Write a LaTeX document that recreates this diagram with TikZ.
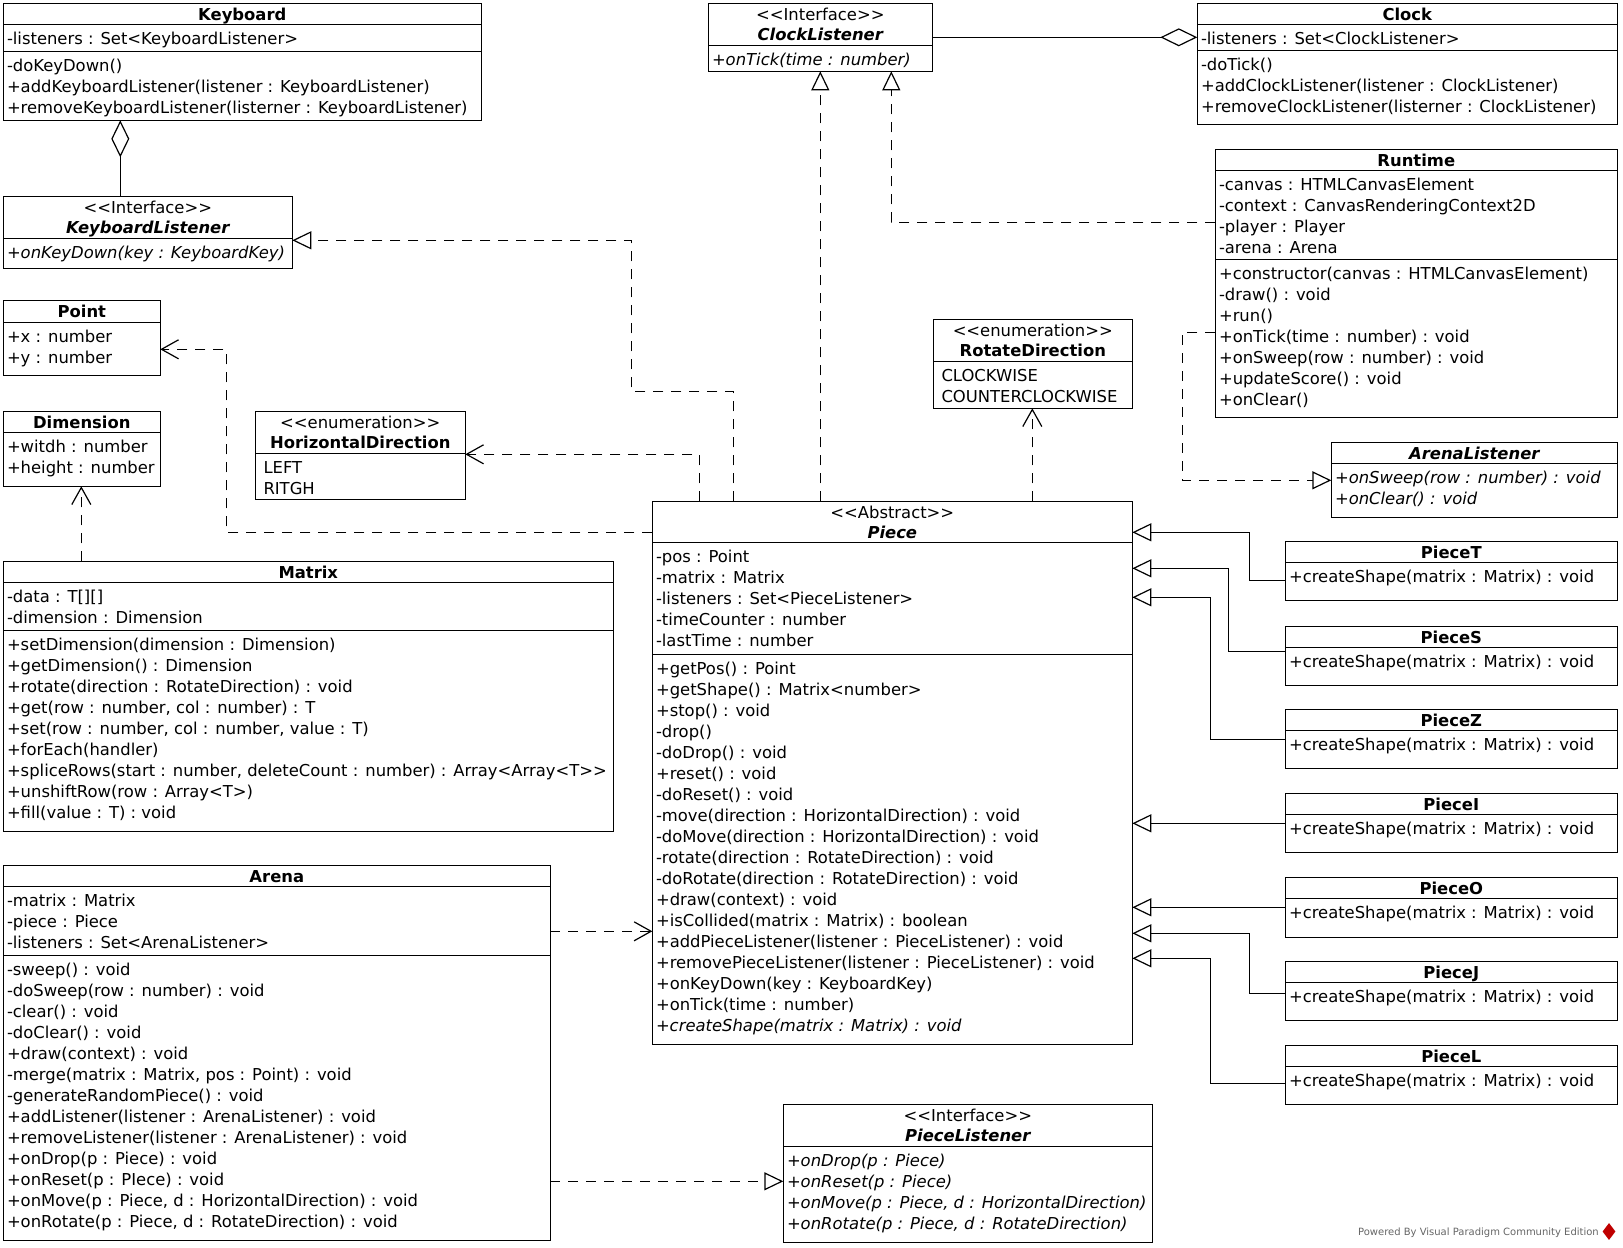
\documentclass[tikz,border=0pt]{standalone}
\usepackage{fontspec}
\setmainfont{DejaVu Sans}
\usetikzlibrary{arrows.meta,shapes.geometric}
\newcommand\stopen{<\kern0pt<}
\newcommand\stclose{>\kern0pt>}
\newcommand\umlcls[5]{\node[clsbox, minimum width={(#4)-(#2)}, minimum height={(#5)-(#3)}] (#1) at ({((#2)+(#4))/2},{((#3)+(#5))/2}) {};}
\newcommand\umlsep[2]{\draw[sepline] (#1.west |- 0,#2) -- (#1.east |- 0,#2);}
\newcommand\ctitle[3]{\node[ttl, yshift=-17.4pt] (#1) at (#2.north) {\bfseries #3};}
\newcommand\stitle[4]{\node[ttl, yshift=-16.7pt] (#1s) at (#2.north) {#3};\node[ttl, yshift=-37.3pt] (#1) at (#2.north) {\bfseries #4};}
\newcommand\ctext[5][3.5]{\node[comp, xshift=#1pt, yshift=-5.1pt] (#2) at (#3.west |- 0,#4) {\strut #5};}
\newcommand\subcls[5]{\umlcls{#1}{1285.3}{#3}{1617.3}{#5}\umlsep{#1}{#4}\ctitle{#1T}{#1}{#2}\ctext{#1M}{#1}{#4}{+createShape(matrix : Matrix) : void}}
\begin{document}
\begin{tikzpicture}[x=1pt, y=-1pt,
  clsbox/.style={draw=black, line width=1.3pt, fill=white, inner sep=0pt, outer sep=0pt},
  sepline/.style={line width=1.3pt},
  comp/.style={anchor=north west, align=left, inner sep=0pt, font=\fontsize{16.4}{21}\selectfont},
  ttl/.style={anchor=base, inner sep=0pt, font=\fontsize{16.4}{21}\selectfont},
  conn/.style={line width=1.2pt, line join=miter},
  dsh/.style={dash pattern=on 10pt off 8pt},
  real/.style={conn, dsh, -{Triangle[open, length=19pt, width=18pt]}},
  dep/.style={conn, dsh, -{Straight Barb[length=17pt, width=19pt]}},
  gen/.style={conn, -{Triangle[open, length=19pt, width=18pt]}},
  aggr/.style={conn, -{Diamond[open, length=37pt, width=18pt]}}]
\fill[white] (0,0) rectangle (1623,1248);
\useasboundingbox (0,0) rectangle (1623,1248);

% ---------- classes ----------
\umlcls{kb}{3.3}{3.3}{481.3}{120.3}
\umlcls{kbl}{3.3}{196.3}{292.3}{268.3}
\umlcls{pt}{3.3}{300.3}{160.3}{375.3}
\umlcls{dm}{3.3}{411.3}{160.3}{486.3}
\umlcls{hd}{255.3}{411.3}{465.3}{499.3}
\umlcls{rd}{933.3}{319.3}{1132.3}{408.3}
\umlcls{cl}{708.3}{3.3}{932.3}{71.3}
\umlcls{clk}{1197.3}{3.3}{1617.3}{124.3}
\umlcls{rt}{1215.3}{149.3}{1617.3}{417.3}
\umlcls{al}{1331.3}{442.3}{1617.3}{517.3}
\umlcls{pc}{652.3}{501.3}{1132.3}{1044.3}
\umlcls{mx}{3.3}{561.3}{613.3}{831.3}
\umlcls{ar}{3.3}{865.3}{550.3}{1240.3}
\umlcls{pl}{783.3}{1104.3}{1152.3}{1242.3}

% ---------- connectors ----------
\draw[aggr] (kbl.north -| 120.3,0) -- (kb.south -| 120.3,0);
\draw[aggr] (cl.east |- 0,37.3) -- (clk.west |- 0,37.3);
\draw[real] (rt.west |- 0,222.3) -| (cl.south -| 891.3,0);
\draw[real] (pc.north -| 820.3,0) -- (cl.south -| 820.3,0);
\draw[real] (pc.north -| 733.3,0) |- (631.3,391.3) |- (kbl.east |- 0,240.3);
\draw[dep] (pc.north -| 699.3,0) |- (hd.east |- 0,454.3);
\draw[dep] (pc.north -| 1032.3,0) -- (rd.south -| 1032.3,0);
\draw[dep] (pc.west |- 0,532.3) -| (226.3,349.3) -- (pt.east |- 0,349.3);
\draw[dep] (mx.north -| 81.3,0) -- (dm.south -| 81.3,0);
\draw[real] (rt.west |- 0,332.3) -| (1182.3,480.3) -- (al.west |- 0,480.3);
\draw[dep] (ar.east |- 0,931.3) -- (pc.west |- 0,931.3);
\draw[real] (ar.east |- 0,1181.3) -- (pl.west |- 0,1181.3);

% ---------- Keyboard ----------
\umlsep{kb}{24.3}\umlsep{kb}{51.3}
\ctitle{kbT}{kb}{Keyboard}
\ctext{kbA}{kb}{24.3}{-listeners : Set<KeyboardListener>}
\ctext{kbM}{kb}{51.3}{-doKeyDown()\\+addKeyboardListener(listener : KeyboardListener)\\+removeKeyboardListener(listerner : KeyboardListener)}

% ---------- KeyboardListener ----------
\umlsep{kbl}{238.3}
\stitle{kblT}{kbl}{\stopen Interface\stclose}{\itshape KeyboardListener}
\ctext{kblM}{kbl}{238.3}{+\textit{onKeyDown(key : KeyboardKey)}}

% ---------- Point / Dimension ----------
\umlsep{pt}{322.3}
\ctitle{ptT}{pt}{Point}
\ctext{ptA}{pt}{322.3}{+x : number\\+y : number}
\umlsep{dm}{432.3}
\ctitle{dmT}{dm}{Dimension}
\ctext{dmA}{dm}{432.3}{+witdh : number\\+height : number}

% ---------- enumerations ----------
\umlsep{hd}{453.3}
\stitle{hdT}{hd}{\stopen enumeration\stclose}{HorizontalDirection}
\ctext[8]{hdA}{hd}{453.3}{LEFT\\RITGH}
\umlsep{rd}{361.3}
\stitle{rdT}{rd}{\stopen enumeration\stclose}{RotateDirection}
\ctext[8]{rdA}{rd}{361.3}{CLOCKWISE\\COUNTERCLOCKWISE}

% ---------- ClockListener / Clock ----------
\umlsep{cl}{45.3}
\stitle{clT}{cl}{\stopen Interface\stclose}{\itshape ClockListener}
\ctext{clM}{cl}{45.3}{+\textit{onTick(time : number)}}
\umlsep{clk}{24.3}\umlsep{clk}{50.3}
\ctitle{clkT}{clk}{Clock}
\ctext{clkA}{clk}{24.3}{-listeners : Set<ClockListener>}
\ctext{clkM}{clk}{50.3}{-doTick()\\+addClockListener(listener : ClockListener)\\+removeClockListener(listerner : ClockListener)}

% ---------- Runtime ----------
\umlsep{rt}{170.3}\umlsep{rt}{259.3}
\ctitle{rtT}{rt}{Runtime}
\ctext{rtA}{rt}{170.3}{-canvas : HTMLCanvasElement\\-context : CanvasRenderingContext2D\\-player : Player\\-arena : Arena}
\ctext{rtM}{rt}{259.3}{+constructor(canvas : HTMLCanvasElement)\\-draw() : void\\+run()\\+onTick(time : number) : void\\+onSweep(row : number) : void\\+updateScore() : void\\+onClear()}

% ---------- ArenaListener ----------
\umlsep{al}{463.3}
\ctitle{alT}{al}{\itshape ArenaListener}
\ctext{alM}{al}{463.3}{+\textit{onSweep(row : number) : void}\\+\textit{onClear() : void}}

% ---------- Piece ----------
\umlsep{pc}{542.3}\umlsep{pc}{654.3}
\stitle{pcT}{pc}{\stopen Abstract\stclose}{\itshape Piece}
\ctext{pcA}{pc}{542.3}{-pos : Point\\-matrix : Matrix\\-listeners : Set<PieceListener>\\-timeCounter : number\\-lastTime : number}
\ctext{pcM}{pc}{654.3}{+getPos() : Point\\+getShape() : Matrix<number>\\+stop() : void\\-drop()\\-doDrop() : void\\+reset() : void\\-doReset() : void\\-move(direction : HorizontalDirection) : void\\-doMove(direction : HorizontalDirection) : void\\-rotate(direction : RotateDirection) : void\\-doRotate(direction : RotateDirection) : void\\+draw(context) : void\\+isCollided(matrix : Matrix) : boolean\\+addPieceListener(listener : PieceListener) : void\\+removePieceListener(listener : PieceListener) : void\\+onKeyDown(key : KeyboardKey)\\+onTick(time : number)\\+\textit{createShape(matrix : Matrix) : void}}

% ---------- Piece subclasses ----------
\subcls{pT}{PieceT}{541.3}{562.3}{600.3}
\subcls{pS}{PieceS}{626.3}{647.3}{685.3}
\subcls{pZ}{PieceZ}{709.3}{730.3}{768.3}
\subcls{pI}{PieceI}{793.3}{814.3}{852.3}
\subcls{pO}{PieceO}{877.3}{898.3}{937.3}
\subcls{pJ}{PieceJ}{961.3}{982.3}{1020.3}
\subcls{pL}{PieceL}{1045.3}{1066.3}{1104.3}
\draw[gen] (pT.west |- 0,580.3) -| (1249.3,532.3) -- (pc.east |- 0,532.3);
\draw[gen] (pS.west |- 0,651.3) -| (1228.3,568.3) -- (pc.east |- 0,568.3);
\draw[gen] (pZ.west |- 0,739.3) -| (1210.3,597.3) -- (pc.east |- 0,597.3);
\draw[gen] (pI.west |- 0,823.3) -- (pc.east |- 0,823.3);
\draw[gen] (pO.west |- 0,907.3) -- (pc.east |- 0,907.3);
\draw[gen] (pJ.west |- 0,993.3) -| (1249.3,933.3) -- (pc.east |- 0,933.3);
\draw[gen] (pL.west |- 0,1083.3) -| (1210.3,958.3) -- (pc.east |- 0,958.3);

% ---------- Matrix ----------
\umlsep{mx}{582.3}\umlsep{mx}{630.3}
\ctitle{mxT}{mx}{Matrix}
\ctext{mxA}{mx}{582.3}{-data : T[][]\\-dimension : Dimension}
\ctext{mxM}{mx}{630.3}{+setDimension(dimension : Dimension)\\+getDimension() : Dimension\\+rotate(direction : RotateDirection) : void\\+get(row : number, col : number) : T\\+set(row : number, col : number, value : T)\\+forEach(handler)\\+spliceRows(start : number, deleteCount : number) : Array<Array<T\stclose\\+unshiftRow(row : Array<T>)\\+fill(value : T) : void}

% ---------- Arena ----------
\umlsep{ar}{886.3}\umlsep{ar}{955.3}
\ctitle{arT}{ar}{Arena}
\ctext{arA}{ar}{886.3}{-matrix : Matrix\\-piece : Piece\\-listeners : Set<ArenaListener>}
\ctext{arM}{ar}{955.3}{-sweep() : void\\-doSweep(row : number) : void\\-clear() : void\\-doClear() : void\\+draw(context) : void\\-merge(matrix : Matrix, pos : Point) : void\\-generateRandomPiece() : void\\+addListener(listener : ArenaListener) : void\\+removeListener(listener : ArenaListener) : void\\+onDrop(p : Piece) : void\\+onReset(p : PIece) : void\\+onMove(p : Piece, d : HorizontalDirection) : void\\+onRotate(p : Piece, d : RotateDirection) : void}

% ---------- PieceListener ----------
\umlsep{pl}{1146.3}
\stitle{plT}{pl}{\stopen Interface\stclose}{\itshape PieceListener}
\ctext{plM}{pl}{1146.3}{+\textit{onDrop(p : Piece)}\\+\textit{onReset(p : Piece)}\\+\textit{onMove(p : Piece, d : HorizontalDirection)}\\+\textit{onRotate(p : Piece, d : RotateDirection)}}

% ---------- watermark ----------
\node[anchor=base east, inner sep=0pt, font=\fontsize{10}{12}\selectfont, text=black!60] (wm) at (1599,1235.5) {Powered By Visual Paradigm Community Edition};
\node[diamond, fill=red!75!black, minimum width=13pt, minimum height=17pt, inner sep=0pt] (vplogo) at (1609,1231.5) {};
\end{tikzpicture}
\end{document}
